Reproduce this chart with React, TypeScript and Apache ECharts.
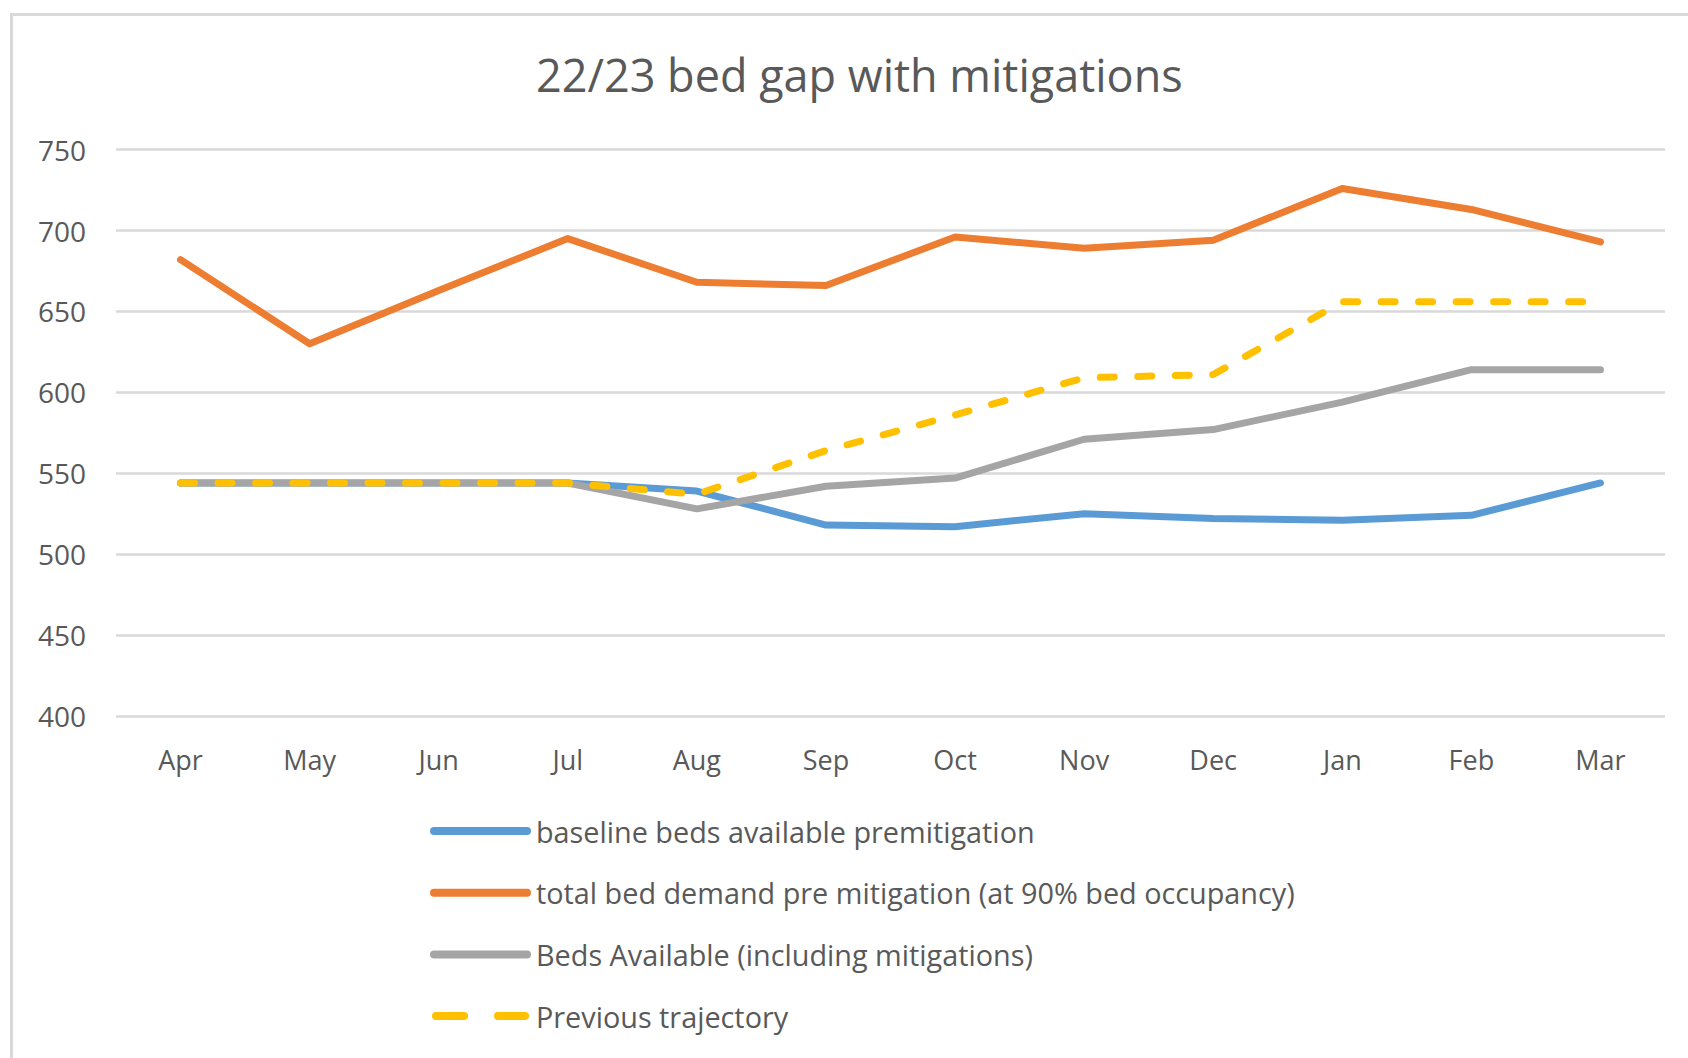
import React, { useEffect, useRef } from "react";
import * as echarts from "echarts";

const months = ["Apr", "May", "Jun", "Jul", "Aug", "Sep", "Oct", "Nov", "Dec", "Jan", "Feb", "Mar"];
const baselineBeds = [544, 544, 544, 544, 539, 518, 517, 525, 522, 521, 524, 544];
const totalDemand = [682, 630, 663, 695, 668, 666, 696, 689, 694, 726, 713, 693];
const bedsWithMitigations = [544, 544, 544, 544, 528, 542, 547, 571, 577, 594, 614, 614];
const previousTrajectory = [544, 544, 544, 544, 537, 564, 586, 609, 611, 656, 656, 656];
const yTicks = { min: 400, max: 750, interval: 50 };

const seriesNames = [
  "baseline beds available premitigation",
  "total bed demand pre mitigation (at 90% bed occupancy)",
  "Beds Available (including mitigations)",
  "Previous trajectory",
];

const FONT = "'Open Sans', 'Noto Sans', sans-serif";
const TEXT = "#595959";

const SOLID_ICON = "path://M4,0 H97 A4,4 0 0 1 97,8 H4 A4,4 0 0 1 4,0 Z";
const DASH_ICON =
  "path://M4,0 H32 A4,4 0 0 1 32,8 H4 A4,4 0 0 1 4,0 Z M66,0 H93 A4,4 0 0 1 93,8 H66 A4,4 0 0 1 66,0 Z";

export default function App() {
  const ref = useRef<HTMLDivElement>(null);
  useEffect(() => {
    if (!ref.current) return;
    const chart = echarts.init(ref.current, null, { renderer: "svg" });
    const lineSeries = (name: string, data: number[], color: string, dashed = false) => ({
      name,
      type: "line",
      data,
      symbol: "none",
      showSymbol: false,
      lineStyle: {
        color,
        width: 7,
        cap: "round",
        join: "round",
        type: dashed ? [14, 23.5] : "solid",
      },
      itemStyle: { color },
    });
    chart.setOption({
      animation: false,
      backgroundColor: "#ffffff",
      textStyle: { fontFamily: FONT },
      title: {
        text: "22/23 bed gap with mitigations",
        left: 536,
        top: 47,
        padding: 0,
        textStyle: { fontFamily: FONT, fontSize: 45, fontWeight: "normal", color: TEXT, lineHeight: 54 },
      },
      graphic: [
        {
          type: "rect",
          z: -10,
          shape: { x: 11.5, y: 14.5, width: 1720, height: 1100 },
          style: { fill: "none", stroke: "#d9d9d9", lineWidth: 3 },
        },
      ],
      grid: { left: 116, right: 23, top: 149.6, bottom: 342, containLabel: false },
      xAxis: {
        type: "category",
        data: months,
        boundaryGap: true,
        axisLine: { show: false },
        axisTick: { show: false },
        axisLabel: { color: TEXT, fontSize: 27, fontFamily: FONT, margin: 30 },
      },
      yAxis: {
        type: "value",
        min: yTicks.min,
        max: yTicks.max,
        interval: yTicks.interval,
        axisLine: { show: false },
        axisTick: { show: false },
        axisLabel: { color: TEXT, fontSize: 28, fontFamily: FONT, margin: 30 },
        splitLine: { lineStyle: { color: "#d9d9d9", width: 2.5 } },
      },
      legend: {
        orient: "vertical",
        left: 430,
        top: 816,
        padding: 0,
        itemWidth: 101,
        itemHeight: 8,
        itemGap: 31.7,
        textStyle: { color: TEXT, fontSize: 28.8, fontFamily: FONT, lineHeight: 30 },
        data: [
          { name: seriesNames[0], icon: SOLID_ICON },
          { name: seriesNames[1], icon: SOLID_ICON },
          { name: seriesNames[2], icon: SOLID_ICON },
          { name: seriesNames[3], icon: DASH_ICON },
        ],
      },
      series: [
        lineSeries(seriesNames[0], baselineBeds, "#5B9BD5"),
        lineSeries(seriesNames[1], totalDemand, "#ED7D31"),
        lineSeries(seriesNames[2], bedsWithMitigations, "#A5A5A5"),
        lineSeries(seriesNames[3], previousTrajectory, "#FFC000", true),
      ],
    });
    return () => chart.dispose();
  }, []);
  return (
    <div
      ref={ref}
      style={{ position: "fixed", left: 0, top: 0, width: 1688, height: 1058, background: "#fff" }}
    />
  );
}
